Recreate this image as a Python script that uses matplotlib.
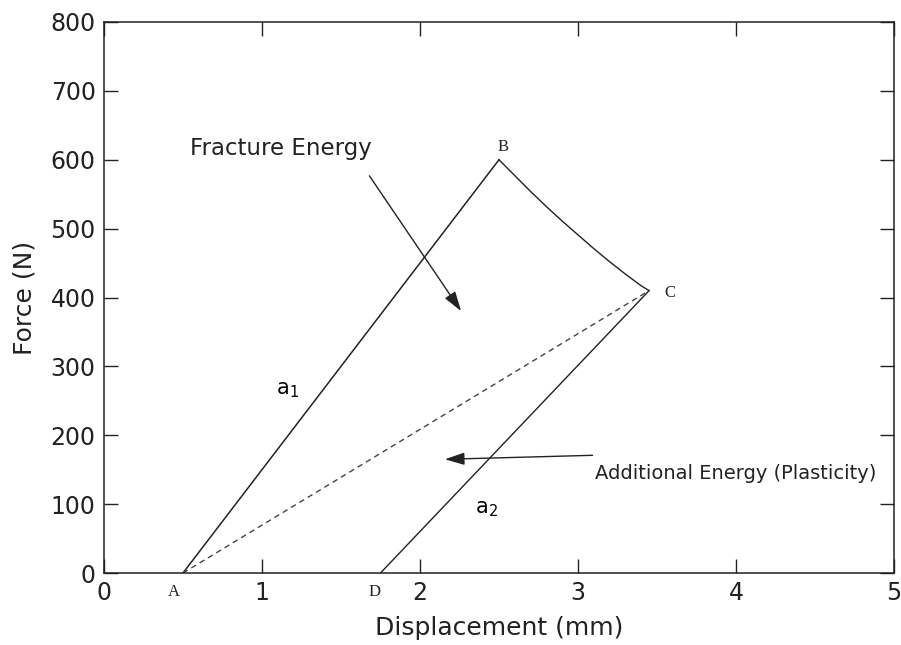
import numpy as np
import matplotlib
matplotlib.use("Agg")
import matplotlib.pyplot as plt

plt.rcParams['font.family'] = ['DejaVu Sans']

# key points of the load / unload cycle (displacement mm, force N)
pt_A = (0.5, 0)
pt_B = (2.5, 600)
pt_C = (3.45, 410)
pt_D = (1.75, 0)

# softening branch between B and C
soft_x = [2.5, 2.6, 2.7, 2.8, 2.9, 3.0, 3.1, 3.2, 3.3, 3.4, 3.45]
soft_y = [600, 577, 554, 532, 511, 491, 471, 452, 434, 417, 410]

fig = plt.figure(figsize=(9.01, 6.45), dpi=100)
ax = fig.add_axes([0.1154, 0.1116, 0.8768, 0.8543])

ax.plot([pt_A[0], pt_B[0]], [pt_A[1], pt_B[1]], color='#222222', lw=1.1)
ax.plot(soft_x, soft_y, color='#222222', lw=1.0)
ax.plot([pt_C[0], pt_D[0]], [pt_C[1], pt_D[1]], color='#222222', lw=1.0)
ax.plot([pt_A[0], pt_C[0]], [pt_A[1], pt_C[1]], color='#444444', lw=1.0,
        linestyle=(0, (4, 3)))

ax.set_xlim(0, 5)
ax.set_ylim(0, 800)
ax.set_xticks(range(0, 6))
ax.set_yticks(range(0, 801, 100))
ax.tick_params(direction='in', length=10, width=1, labelsize=17,
               top=True, right=True, pad=6, colors='#222222')
for s in ax.spines.values():
    s.set_linewidth(1.1)
    s.set_color('#222222')
ax.set_xlabel('Displacement (mm)', fontsize=18, labelpad=8, color='#222222')
ax.set_ylabel('Force (N)', fontsize=18, labelpad=10, color='#222222')

# point labels in a typewriter-like serif
pts = dict(family=['Liberation Serif', 'DejaVu Serif'], fontsize=12,
           ha='center', va='center', color='#222222')
ax.text(2.525, 618, 'B', **pts)
ax.text(3.58, 406, 'C', **pts)
ax.text(0.44, -27, 'A', clip_on=False, **pts)
ax.text(1.715, -27, 'D', clip_on=False, **pts)

ax.text(1.16, 266, 'a$_1$', fontsize=15, ha='center', va='center')
ax.text(2.42, 93, 'a$_2$', fontsize=15, ha='center', va='center')

ax.text(0.544, 617, 'Fracture Energy', fontsize=16.5, ha='left', va='center',
        color='#222222')
ax.annotate('', xy=(2.27, 377), xytext=(1.67, 580),
            arrowprops=dict(arrowstyle='-|>,head_length=1.2,head_width=0.38',
                            color='#222222', lw=1.0))

ax.text(3.11, 144, 'Additional Energy (Plasticity)', fontsize=14,
        ha='left', va='center', color='#222222')
ax.annotate('', xy=(2.14, 165), xytext=(3.11, 171),
            arrowprops=dict(arrowstyle='-|>,head_length=1.2,head_width=0.38',
                            color='#222222', lw=1.0))

fig.savefig('out.png', dpi=100)
